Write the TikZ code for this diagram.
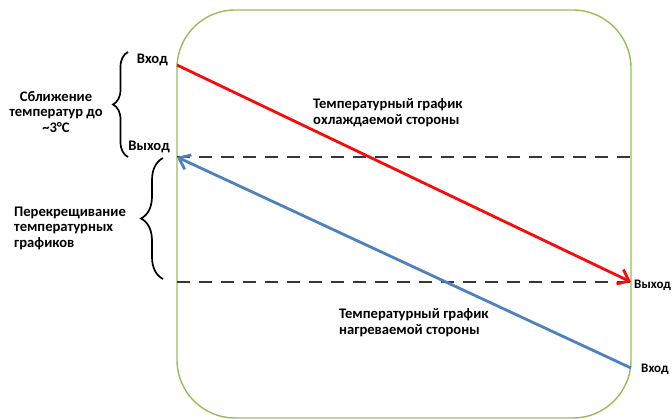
\documentclass[tikz,border=0pt]{standalone}
\usepackage{fontspec}
\setmainfont{Carlito}
\usetikzlibrary{arrows.meta,decorations.pathreplacing,positioning}
\definecolor{frameGreen}{RGB}{155,187,89}
\definecolor{hotRed}{RGB}{250,10,10}
\definecolor{coldBlue}{RGB}{79,129,189}
\definecolor{dashGray}{RGB}{55,55,55}
\tikzset{
    label/.style = {font=\bfseries\fontsize{14.6}{15.5}\selectfont, inner sep=0pt},
    sidelabel/.style = {label, font=\bfseries\fontsize{13}{15}\selectfont, anchor=west},
    level/.style = {draw=dashGray, line width=2.6pt, dash pattern=on 13pt off 9pt},
    flow/.style = {line width=2.8pt, -{Straight Barb[length=10pt,width=16pt,line width=2.8pt]}},
    bracket/.style = {draw, line width=1.7pt, decorate, decoration={brace, amplitude=#1}}
}
\begin{document}
\begin{tikzpicture}[x=1pt,y=-1pt]
        \useasboundingbox (0,0) rectangle (672,419);
        % heat exchanger outline
        \draw [frameGreen, line width=1.4pt, rounded corners=58pt] (177,10) rectangle (631,418);
        % end points
        \coordinate (hotin) at (177,65);
        \coordinate (hotout) at (631,282);
        \coordinate (coldin) at (631,368);
        \coordinate (coldout) at (177,157);
        \coordinate (topL) at (177,157);
        \coordinate (topR) at (631,157);
        \coordinate (botL) at (177,282);
        \coordinate (botR) at (631,282);
        \draw [level] (topL) -- (topR);
        \draw [level] (botL) -- (botR);
        \draw [flow, hotRed] (hotin) -- (hotout);
        \draw [flow, coldBlue] (coldin) -- (coldout);
        % braces
        \coordinate (approachB) at (128,157);
        \coordinate (approachT) at (128,52);
        \coordinate (crossB) at (163,279);
        \coordinate (crossT) at (163,158);
        \draw [bracket=15pt] (approachB) -- (approachT);
        \draw [bracket=22pt] (crossB) -- (crossT);
        % labels
        \node [label, anchor=east] (hotinlbl) at (168,60) {Вход};
        \node [label, anchor=east] (hotoutlbl) at (170,147) {Выход};
        \node [sidelabel] (hotoutR) at (634,285) {Выход};
        \node [sidelabel] (coldinR) at (641,369) {Вход};
        \node [label, align=center] (approach) at (56,112) {Сближение\\температур до\\\textasciitilde3°C};
        \node [label, align=left, anchor=west] (cross) at (14,228) {Перекрещивание\\температурных\\графиков};
        \node [label, align=left, anchor=west] (hotline) at (313,112.5) {Температурный график\\охлаждаемой стороны};
        \node [label, align=left, anchor=west] (coldline) at (339,322.5) {Температурный график\\нагреваемой стороны};
\end{tikzpicture}
\end{document}
